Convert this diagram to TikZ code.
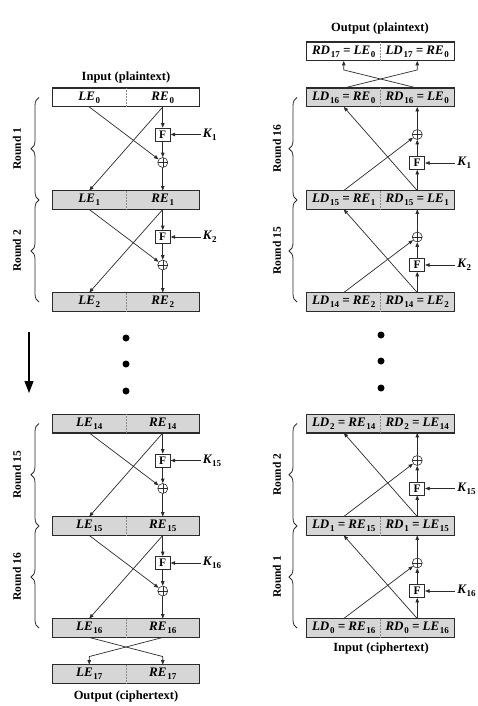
\documentclass[tikz,border=0pt]{standalone}
\usepackage{fontspec}
\setmainfont{Liberation Serif}
\usepackage{tikz}
\usetikzlibrary{arrows.meta,positioning,decorations.pathreplacing}
\definecolor{roundgray}{HTML}{D6D6D6}
\definecolor{inkgray}{HTML}{2B2B2B}
\newcommand{\idx}[1]{\kern0.7pt\raisebox{-2.6pt}{\fontsize{9}{9}\selectfont\upshape#1}}

\begin{document}
\begin{tikzpicture}[
  x=1pt,y=-1pt,
  half/.style={minimum width=73.5pt,minimum height=18.5pt,inner sep=0pt,fill=roundgray,font=\fontsize{13}{15}\selectfont\bfseries\itshape},
  plain/.style={half,fill=white},
  frame/.style={draw=inkgray,line width=1.1pt},
  divider/.style={draw=black!45,densely dotted,line width=0.5pt},
  fbox/.style={draw=inkgray,fill=white,line width=0.7pt,minimum width=15pt,minimum height=13pt,inner sep=0pt,font=\fontsize{11.5}{12}\selectfont\bfseries},
  xor/.style={draw=inkgray,circle,fill=white,line width=0.6pt,minimum size=10pt,inner sep=0pt,
    path picture={\draw[line width=0.5pt] (path picture bounding box.north) -- (path picture bounding box.south)
      (path picture bounding box.west) -- (path picture bounding box.east);}},
  key/.style={font=\fontsize{13}{15}\selectfont\bfseries\itshape,inner sep=2pt},
  arrow/.style={-{Triangle[length=4.5pt,width=3.5pt]},line width=0.7pt,draw=inkgray},
  brace/.style={decorate,decoration={brace,amplitude=8pt},line width=0.8pt,draw=inkgray},
  rnd/.style={rotate=90,font=\fontsize{11.5}{13}\selectfont\bfseries},
  title/.style={font=\fontsize{12.5}{14}\selectfont\bfseries},
  dot/.style={circle,fill=black,inner sep=0pt,minimum size=7pt},
  flow/.style={-{Triangle[length=12pt,width=9pt]},line width=1.3pt}
]
\useasboundingbox (0,0) rectangle (478,706);

% encryption (left)
\node[title] (encin) at (126,77) {Input (plaintext)};
\node[plain] (le0) at (89.25,97.5) {LE\idx{0}};
\node[plain] (re0) at (162.75,97.5) {RE\idx{0}};
\node[half] (le1) at (89.25,200) {LE\idx{1}};
\node[half] (re1) at (162.75,200) {RE\idx{1}};
\node[half] (le2) at (89.25,302) {LE\idx{2}};
\node[half] (re2) at (162.75,302) {RE\idx{2}};
\node[half] (le14) at (89.25,423.5) {LE\idx{14}};
\node[half] (re14) at (162.75,423.5) {RE\idx{14}};
\node[half] (le15) at (89.25,526) {LE\idx{15}};
\node[half] (re15) at (162.75,526) {RE\idx{15}};
\node[half] (le16) at (89.25,628) {LE\idx{16}};
\node[half] (re16) at (162.75,628) {RE\idx{16}};
\node[half] (le17) at (89.25,674) {LE\idx{17}};
\node[half] (re17) at (162.75,674) {RE\idx{17}};
\node[title] (encout) at (126,696) {Output (ciphertext)};

\draw[frame] (le0.north west) rectangle (re0.south east);
\draw[divider] (le0.north east) -- (le0.south east);
\draw[frame] (le1.north west) rectangle (re1.south east);
\draw[divider] (le1.north east) -- (le1.south east);
\draw[frame] (le2.north west) rectangle (re2.south east);
\draw[divider] (le2.north east) -- (le2.south east);
\draw[frame] (le14.north west) rectangle (re14.south east);
\draw[divider] (le14.north east) -- (le14.south east);
\draw[frame] (le15.north west) rectangle (re15.south east);
\draw[divider] (le15.north east) -- (le15.south east);
\draw[frame] (le16.north west) rectangle (re16.south east);
\draw[divider] (le16.north east) -- (le16.south east);
\draw[frame] (le17.north west) rectangle (re17.south east);
\draw[divider] (le17.north east) -- (le17.south east);

% round 1
\node[fbox] (f1) at (162.75,134.5) {F};
\node[xor] (x1) at (162.75,162.5) {};
\node[key,right=30pt of f1] (k1) {K\idx{1}};
\draw[arrow] (re0) -- (f1);
\draw[arrow] (f1) -- (x1);
\draw[arrow] (x1) -- (re1);
\draw[arrow] (k1) -- (f1);
\draw[arrow] (le0.south) -- (x1);
\draw[arrow] (re0.south) -- (le1.north);
% round 2
\node[fbox] (f2) at (162.75,237) {F};
\node[xor] (x2) at (162.75,265) {};
\node[key,right=30pt of f2] (k2) {K\idx{2}};
\draw[arrow] (re1) -- (f2);
\draw[arrow] (f2) -- (x2);
\draw[arrow] (x2) -- (re2);
\draw[arrow] (k2) -- (f2);
\draw[arrow] (le1.south) -- (x2);
\draw[arrow] (re1.south) -- (le2.north);
% round 15
\node[fbox] (f15) at (162.75,460.5) {F};
\node[xor] (x15) at (162.75,488.5) {};
\node[key,right=30pt of f15] (k15) {K\idx{15}};
\draw[arrow] (re14) -- (f15);
\draw[arrow] (f15) -- (x15);
\draw[arrow] (x15) -- (re15);
\draw[arrow] (k15) -- (f15);
\draw[arrow] (le14.south) -- (x15);
\draw[arrow] (re14.south) -- (le15.north);
% round 16
\node[fbox] (f16) at (162.75,563) {F};
\node[xor] (x16) at (162.75,591) {};
\node[key,right=30pt of f16] (k16) {K\idx{16}};
\draw[arrow] (re15) -- (f16);
\draw[arrow] (f16) -- (x16);
\draw[arrow] (x16) -- (re16);
\draw[arrow] (k16) -- (f16);
\draw[arrow] (le15.south) -- (x16);
\draw[arrow] (re15.south) -- (le16.north);
% swap
\draw[arrow] (le16.south) -- ([yshift=8pt]re17.north) -- (re17.north);
\draw[arrow] (re16.south) -- ([yshift=8pt]le17.north) -- (le17.north);

\draw[brace] (39,200) -- (39,97.5);
\draw[brace] (39,302) -- (39,200);
\draw[brace] (39,526) -- (39,423.5);
\draw[brace] (39,628) -- (39,526);
\node[rnd] (er1) at (17,148.75) {Round 1};
\node[rnd] (er2) at (17,251) {Round 2};
\node[rnd] (er15) at (17,474.75) {Round 15};
\node[rnd] (er16) at (17,577) {Round 16};

\node[dot] (ea) at (126,338) {};
\node[dot] (eb) at (126,364) {};
\node[dot] (ec) at (126,391) {};
\coordinate (flowtop) at (29,332);
\coordinate (flowend) at (29,393);
\draw[flow] (flowtop) -- (flowend);

% decryption (right)
\node[title] (decout) at (380,28) {Output (plaintext)};
\node[plain] (rd17) at (343.75,51.5) {RD\idx{17} = LE\idx{0}};
\node[plain] (ld17) at (417.25,51.5) {LD\idx{17} = RE\idx{0}};
\node[half] (ld16) at (343.75,97.5) {LD\idx{16} = RE\idx{0}};
\node[half] (rd16) at (417.25,97.5) {RD\idx{16} = LE\idx{0}};
\node[half] (ld15) at (343.75,200) {LD\idx{15} = RE\idx{1}};
\node[half] (rd15) at (417.25,200) {RD\idx{15} = LE\idx{1}};
\node[half] (ld14) at (343.75,302) {LD\idx{14} = RE\idx{2}};
\node[half] (rd14) at (417.25,302) {RD\idx{14} = LE\idx{2}};
\node[half] (ld2) at (343.75,423.5) {LD\idx{2} = RE\idx{14}};
\node[half] (rd2) at (417.25,423.5) {RD\idx{2} = LE\idx{14}};
\node[half] (ld1) at (343.75,526) {LD\idx{1} = RE\idx{15}};
\node[half] (rd1) at (417.25,526) {RD\idx{1} = LE\idx{15}};
\node[half] (ld0) at (343.75,628) {LD\idx{0} = RE\idx{16}};
\node[half] (rd0) at (417.25,628) {RD\idx{0} = LE\idx{16}};
\node[title] (decin) at (381,648) {Input (ciphertext)};

\draw[frame] (rd17.north west) rectangle (ld17.south east);
\draw[divider] (rd17.north east) -- (rd17.south east);
\draw[frame] (ld16.north west) rectangle (rd16.south east);
\draw[divider] (ld16.north east) -- (ld16.south east);
\draw[frame] (ld15.north west) rectangle (rd15.south east);
\draw[divider] (ld15.north east) -- (ld15.south east);
\draw[frame] (ld14.north west) rectangle (rd14.south east);
\draw[divider] (ld14.north east) -- (ld14.south east);
\draw[frame] (ld2.north west) rectangle (rd2.south east);
\draw[divider] (ld2.north east) -- (ld2.south east);
\draw[frame] (ld1.north west) rectangle (rd1.south east);
\draw[divider] (ld1.north east) -- (ld1.south east);
\draw[frame] (ld0.north west) rectangle (rd0.south east);
\draw[divider] (ld0.north east) -- (ld0.south east);

% round 1 (K16)
\node[fbox] (df1) at (417.25,591) {F};
\node[xor] (dx1) at (417.25,563) {};
\node[key,right=30pt of df1] (dk1) {K\idx{16}};
\draw[arrow] (rd0) -- (df1);
\draw[arrow] (df1) -- (dx1);
\draw[arrow] (dx1) -- (rd1);
\draw[arrow] (dk1) -- (df1);
\draw[arrow] (ld0.north) -- (dx1);
\draw[arrow] (rd0.north) -- (ld1.south);
% round 2 (K15)
\node[fbox] (df2) at (417.25,488.5) {F};
\node[xor] (dx2) at (417.25,460.5) {};
\node[key,right=30pt of df2] (dk2) {K\idx{15}};
\draw[arrow] (rd1) -- (df2);
\draw[arrow] (df2) -- (dx2);
\draw[arrow] (dx2) -- (rd2);
\draw[arrow] (dk2) -- (df2);
\draw[arrow] (ld1.north) -- (dx2);
\draw[arrow] (rd1.north) -- (ld2.south);
% round 15 (K2)
\node[fbox] (df15) at (417.25,265) {F};
\node[xor] (dx15) at (417.25,237) {};
\node[key,right=30pt of df15] (dk15) {K\idx{2}};
\draw[arrow] (rd14) -- (df15);
\draw[arrow] (df15) -- (dx15);
\draw[arrow] (dx15) -- (rd15);
\draw[arrow] (dk15) -- (df15);
\draw[arrow] (ld14.north) -- (dx15);
\draw[arrow] (rd14.north) -- (ld15.south);
% round 16 (K1)
\node[fbox] (df16) at (417.25,163) {F};
\node[xor] (dx16) at (417.25,134.5) {};
\node[key,right=30pt of df16] (dk16) {K\idx{1}};
\draw[arrow] (rd15) -- (df16);
\draw[arrow] (df16) -- (dx16);
\draw[arrow] (dx16) -- (rd16);
\draw[arrow] (dk16) -- (df16);
\draw[arrow] (ld15.north) -- (dx16);
\draw[arrow] (rd15.north) -- (ld16.south);
% swap
\draw[arrow] (ld16.north) -- ([yshift=-9pt]ld17.south) -- (ld17.south);
\draw[arrow] (rd16.north) -- ([yshift=-9pt]rd17.south) -- (rd17.south);

\draw[brace] (297,200) -- (297,97.5);
\draw[brace] (297,302) -- (297,200);
\draw[brace] (297,526) -- (297,423.5);
\draw[brace] (297,628) -- (297,526);
\node[rnd] (dr16) at (277,148.75) {Round 16};
\node[rnd] (dr15) at (277,251) {Round 15};
\node[rnd] (dr2) at (277,474.75) {Round 2};
\node[rnd] (dr1) at (277,577) {Round 1};

\node[dot] (da) at (381,335) {};
\node[dot] (db) at (381,361) {};
\node[dot] (dc) at (381,388) {};
\end{tikzpicture}
\end{document}
